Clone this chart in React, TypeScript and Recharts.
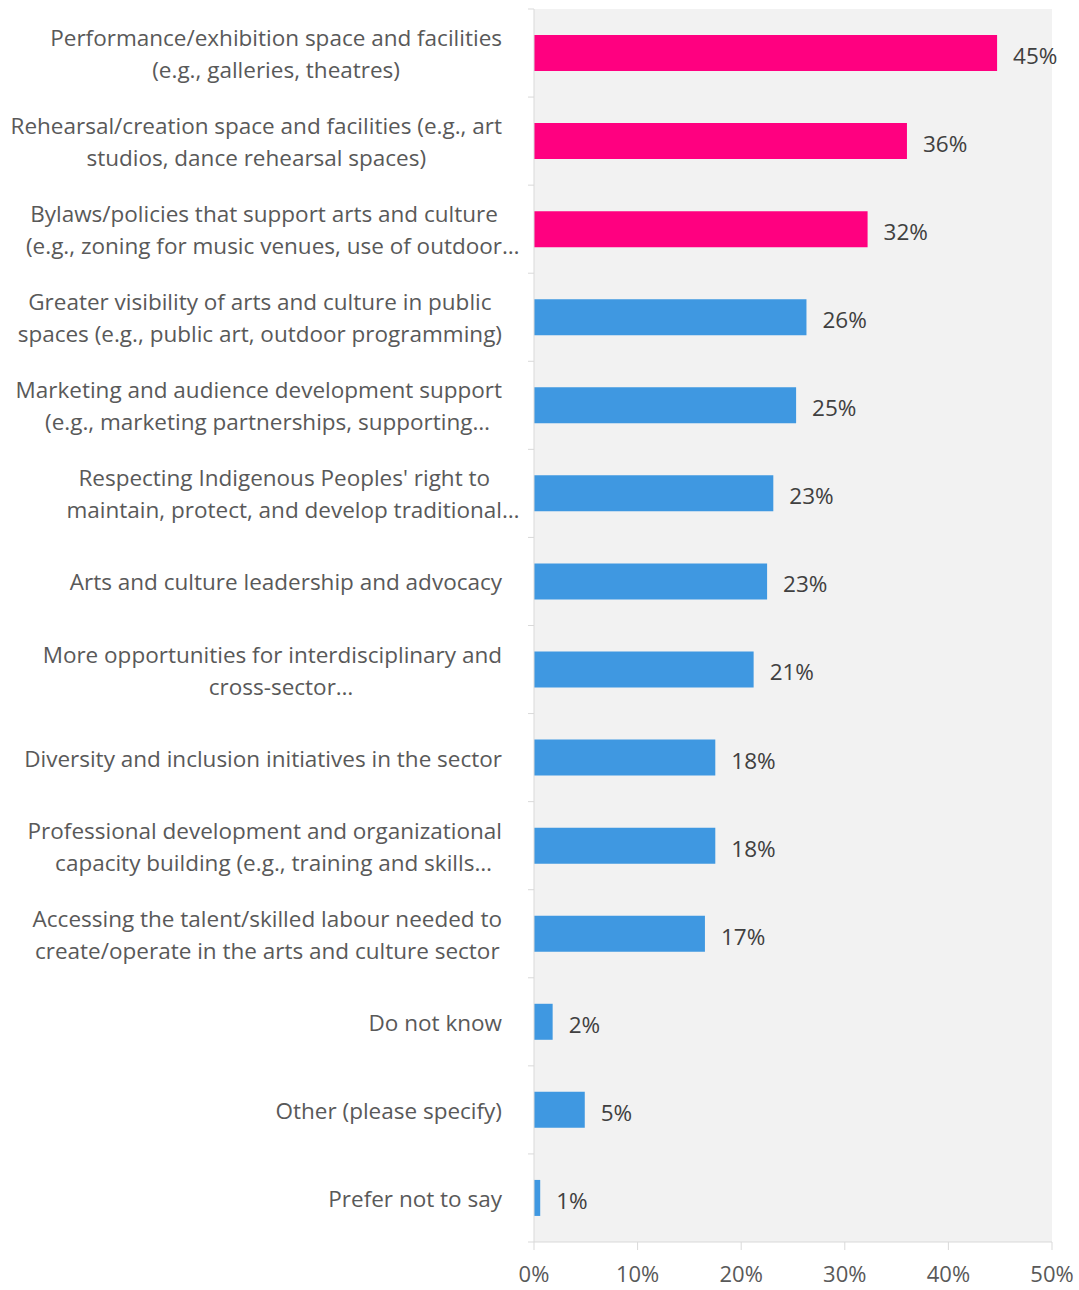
import { BarChart, Bar, XAxis, YAxis, CartesianGrid, LabelList, Cell } from 'recharts';

const categories = [
  'Performance/exhibition space and facilities\n(e.g., galleries, theatres)',
  'Rehearsal/creation space and facilities (e.g., art\nstudios, dance rehearsal spaces)',
  'Bylaws/policies that support arts and culture\n(e.g., zoning for music venues, use of outdoor…',
  'Greater visibility of arts and culture in public\nspaces (e.g., public art, outdoor programming)',
  'Marketing and audience development support\n(e.g., marketing partnerships, supporting…',
  "Respecting Indigenous Peoples' right to\nmaintain, protect, and develop traditional…",
  'Arts and culture leadership and advocacy',
  'More opportunities for interdisciplinary and\ncross-sector…',
  'Diversity and inclusion initiatives in the sector',
  'Professional development and organizational\ncapacity building (e.g., training and skills…',
  'Accessing the talent/skilled labour needed to\ncreate/operate in the arts and culture sector',
  'Do not know',
  'Other (please specify)',
  'Prefer not to say',
];

const shares = [44.7, 36.0, 32.2, 26.3, 25.3, 23.1, 22.5, 21.2, 17.5, 17.5, 16.5, 1.8, 4.9, 0.6];

// first three answers are highlighted
const highlighted = [true, true, true, false, false, false, false, false, false, false, false, false, false, false];

const xTicks = [0, 10, 20, 30, 40, 50];

const data = categories.map((name, i) => ({ name, value: shares[i], hi: highlighted[i] }));

const FONT = "'Segoe UI', 'Open Sans', sans-serif";
const AXIS = '#d9d9d9';
const TEXT = '#595959';

const W = 1079;
const H = 1290;
const TOP = 9;
const BOTTOM_AXIS = 48;
const STEP = (H - TOP - BOTTOM_AXIS) / categories.length;

// the trailing ellipsis hangs past the wrapped block, like the office chart does
function Line({ text }: { text: string }) {
  if (!text.endsWith('…')) return <div>{text}</div>;
  return (
    <div>
      {text.slice(0, -1)}
      <span style={{ display: 'inline-block', width: 0, overflow: 'visible' }}>…</span>
    </div>
  );
}

function CategoryTick(props: any) {
  const { x, y, payload, index } = props;
  const lines = String(payload.value).split('\n');
  const boxH = lines.length * 32;
  return (
    <g>
      <line x1={x} x2={x + 6} y1={y - STEP / 2} y2={y - STEP / 2} stroke={AXIS} />
      {index === categories.length - 1 && (
        <line x1={x} x2={x + 6} y1={y + STEP / 2} y2={y + STEP / 2} stroke={AXIS} />
      )}
      <foreignObject x={0} y={y - boxH / 2 + 1} width={x} height={boxH + 6}>
        <div style={{ display: 'flex', justifyContent: 'flex-end', width: '100%', boxSizing: 'border-box', paddingRight: 26 }}>
          <div
            style={{
              textAlign: 'center',
              fontFamily: FONT,
              fontSize: 22.5,
              lineHeight: '32px',
              color: TEXT,
              whiteSpace: 'nowrap',
            }}
          >
            {lines.map((l, k) => (
              <Line key={k} text={l} />
            ))}
          </div>
        </div>
      </foreignObject>
    </g>
  );
}

export default function App() {
  return (
    <div style={{ position: 'absolute', left: 0, top: 0, width: W, height: H, background: '#fff' }}>
      <BarChart
        width={W}
        height={H}
        data={data}
        layout="vertical"
        margin={{ top: TOP, right: 27, left: 0, bottom: 0 }}
        barCategoryGap={0}
      >
        <CartesianGrid fill="#f2f2f2" horizontal={false} vertical={false} stroke="none" />
        <XAxis
          type="number"
          domain={[0, 50]}
          ticks={xTicks}
          tickFormatter={(v) => `${v}%`}
          height={BOTTOM_AXIS}
          axisLine={{ stroke: AXIS }}
          tickLine={{ stroke: AXIS }}
          tickSize={8}
          tickMargin={16}
          tick={{ fontSize: 22, fill: TEXT, fontFamily: FONT }}
          interval={0}
        />
        <YAxis
          type="category"
          dataKey="name"
          width={534}
          axisLine={{ stroke: AXIS }}
          tickLine={false}
          tick={<CategoryTick />}
          interval={0}
          tickMargin={0}
        />
        <Bar dataKey="value" barSize={36} isAnimationActive={false}>
          {data.map((d, i) => (
            <Cell key={i} fill={d.hi ? '#ff0080' : '#3f98e1'} />
          ))}
          <LabelList
            dataKey="value"
            position="right"
            offset={16}
            formatter={(v: any) => `${Math.round(Number(v))}%`}
            style={{ fontSize: 22.5, fill: '#404040', fontFamily: FONT, transform: 'translateY(3px)' }}
          />
        </Bar>
      </BarChart>
    </div>
  );
}
